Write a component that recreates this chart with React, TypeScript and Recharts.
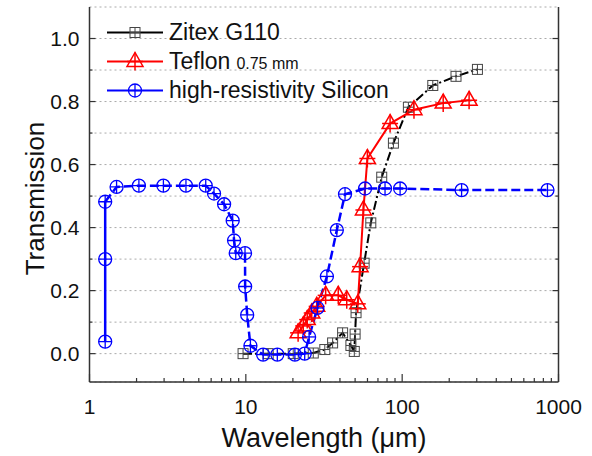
import React from 'react';
import { LineChart, Line, XAxis, YAxis, CartesianGrid, Legend } from 'recharts';

// values: wavelength (µm) and transmission
const zitexWl = [9.6, 13.9, 20.1, 27.0, 32.0, 35.9, 41.6, 47.0, 49.4, 50.0, 50.7, 57.1, 63.0, 74.0, 87.9, 109.6, 157, 221, 303];
const zitexT = [0.0, 0.0, 0.0, 0.002, 0.013, 0.034, 0.066, 0.026, 0.007, 0.062, 0.13, 0.287, 0.415, 0.56, 0.668, 0.782, 0.851, 0.88, 0.902];

const teflonWl = [21.6, 23.3, 24.7, 26.4, 28.4, 32.4, 39.0, 44.2, 52.0, 53.8, 56.5, 59.9, 83.7, 119, 183, 268];
const teflonT = [0.066, 0.088, 0.108, 0.129, 0.15, 0.185, 0.185, 0.171, 0.158, 0.276, 0.456, 0.619, 0.73, 0.774, 0.795, 0.804];

const siliconWl = [1.26, 1.26, 1.26, 1.49, 2.07, 2.97, 4.14, 5.54, 6.26, 7.26, 8.24, 8.41, 8.62, 9.88, 9.9, 10.2, 10.7, 12.9, 15.9, 20.6, 23.8, 25.4, 28.7, 33.0, 38.2, 43.1, 57.9, 77.7, 97.0, 240, 850];
const siliconT = [0.038, 0.30, 0.482, 0.529, 0.533, 0.533, 0.533, 0.533, 0.508, 0.474, 0.422, 0.359, 0.319, 0.319, 0.213, 0.123, 0.025, -0.003, -0.003, -0.003, 0.0, 0.053, 0.145, 0.245, 0.392, 0.506, 0.524, 0.524, 0.524, 0.519, 0.519];

const xTicks = [1, 2, 3, 4, 5, 6, 7, 8, 9, 10, 20, 30, 40, 50, 60, 70, 80, 90, 100, 200, 300, 400, 500, 600, 700, 800, 900, 1000];
const xLabels = [1, 10, 100, 1000];
const yTicks = [0, 0.1, 0.2, 0.3, 0.4, 0.5, 0.6, 0.7, 0.8, 0.9, 1.0];
const yLabels = [0, 0.2, 0.4, 0.6, 0.8, 1.0];

const FONT = '"Liberation Sans", Arial, sans-serif';
const AXIS = '#333';

const toPoints = (wl: number[], t: number[]) => wl.map((w, i) => ({ wl: w, t: t[i] }));
const zitex = toPoints(zitexWl, zitexT);
const teflon = toPoints(teflonWl, teflonT);
const silicon = toPoints(siliconWl, siliconT);
// the first three silicon points (same wavelength) are joined by a solid line, the rest dashed
const siliconSolid = silicon.slice(0, 3);
const siliconDashed = silicon.slice(2);

const isMajorY = (v: number) => yLabels.some(l => Math.abs(l - v) < 1e-6);

const SquareMark = ({ cx, cy }: any) => (
  <g stroke="#444" strokeWidth={1} fill="none">
    <rect x={cx - 5} y={cy - 5} width={10} height={10} />
    <line x1={cx - 5} y1={cy} x2={cx + 5} y2={cy} />
    <line x1={cx} y1={cy - 5} x2={cx} y2={cy + 5} />
  </g>
);

const TriMark = ({ cx, cy }: any) => (
  <g stroke="#ff0000" strokeWidth={1.5} fill="none">
    <polygon points={`${cx},${cy - 9} ${cx - 8},${cy + 5} ${cx + 8},${cy + 5}`} />
    <line x1={cx} y1={cy - 9} x2={cx} y2={cy + 9} />
    <line x1={cx - 8} y1={cy} x2={cx + 8} y2={cy} />
  </g>
);

const CircleMark = ({ cx, cy }: any) => (
  <g stroke="#0000ff" strokeWidth={1.3} fill="none">
    <circle cx={cx} cy={cy} r={6.5} />
    <line x1={cx - 6.5} y1={cy} x2={cx + 6.5} y2={cy} />
    <line x1={cx} y1={cy - 6.5} x2={cx} y2={cy + 6.5} />
  </g>
);

const BottomTick = ({ x, y, payload }: any) => {
  const major = xLabels.includes(payload.value);
  return (
    <g>
      <line x1={x} y1={y} x2={x} y2={y - (major ? 8 : 4)} stroke={AXIS} strokeWidth={1.2} />
      {major && (
        <text x={x} y={y + 24} textAnchor="middle" dominantBaseline="central" fontSize={21} fontFamily={FONT} fill="#111">
          {payload.value}
        </text>
      )}
    </g>
  );
};

const TopTick = ({ x, y, payload }: any) => {
  const major = xLabels.includes(payload.value);
  return <line x1={x} y1={y} x2={x} y2={y + (major ? 8 : 4)} stroke={AXIS} strokeWidth={1.2} />;
};

const LeftTick = ({ x, y, payload }: any) => {
  const major = isMajorY(payload.value);
  return (
    <g>
      <line x1={x} y1={y} x2={x + (major ? 6 : 3)} y2={y} stroke={AXIS} strokeWidth={1.2} />
      {major && (
        <text x={x - 10} y={y} textAnchor="end" dominantBaseline="central" fontSize={21} fontFamily={FONT} fill="#111">
          {payload.value.toFixed(1)}
        </text>
      )}
    </g>
  );
};

const RightTick = ({ x, y, payload }: any) => {
  const major = isMajorY(payload.value);
  return <line x1={x} y1={y} x2={x - (major ? 6 : 3)} y2={y} stroke={AXIS} strokeWidth={1.2} />;
};

const legendRows = [
  { name: 'Zitex G110', sub: '', color: '#000', Mark: SquareMark },
  { name: 'Teflon', sub: '0.75 mm', color: '#ff0000', Mark: TriMark },
  { name: 'high-resistivity Silicon', sub: '', color: '#0000ff', Mark: CircleMark },
];

const renderLegend = () => (
  <div style={{ fontFamily: FONT, color: '#111' }}>
    {legendRows.map(r => (
      <div key={r.name} style={{ display: 'flex', alignItems: 'center', height: 29 }}>
        <svg width={58} height={29}>
          <line x1={2} y1={14.5} x2={58} y2={14.5} stroke={r.color} strokeWidth={2} />
          <r.Mark cx={30} cy={14.5} />
        </svg>
        <span style={{ fontSize: 23, marginLeft: 6, whiteSpace: 'nowrap' }}>
          {r.name}
          {r.sub && <span style={{ fontSize: 16, marginLeft: 6 }}>{r.sub}</span>}
        </span>
      </div>
    ))}
  </div>
);

export default function App() {
  return (
    <div style={{ width: 592, height: 456, background: '#fff' }}>
      <style>{'body{margin:0}'}</style>
      <LineChart width={592} height={456} margin={{ top: 7, right: 0, bottom: 0, left: 0 }}>
        <CartesianGrid vertical={false} stroke="#aaa" strokeDasharray="2 3" />
        <XAxis
          dataKey="wl"
          type="number"
          scale="log"
          domain={[1, 1000]}
          allowDataOverflow
          ticks={xTicks}
          interval={0}
          height={74}
          tickSize={0}
          tickMargin={0}
          tick={<BottomTick />}
          stroke={AXIS}
          strokeWidth={1.5}
          label={{
            content: ({ viewBox }: any) => (
              <text x={viewBox.x + viewBox.width / 2} y={viewBox.y + 56} textAnchor="middle" dominantBaseline="central" fontSize={27} fontFamily={FONT} fill="#111">
                Wavelength (μm)
              </text>
            ),
          }}
        />
        <XAxis
          xAxisId="top"
          orientation="top"
          dataKey="wl"
          type="number"
          scale="log"
          domain={[1, 1000]}
          allowDataOverflow
          ticks={xTicks}
          interval={0}
          height={0}
          tickSize={0}
          tickMargin={0}
          tick={<TopTick />}
          stroke={AXIS}
          strokeWidth={1.5}
        />
        <YAxis
          type="number"
          domain={[-0.09, 1.1]}
          allowDataOverflow
          ticks={yTicks}
          interval={0}
          width={89.5}
          tickSize={0}
          tickMargin={0}
          tick={<LeftTick />}
          stroke={AXIS}
          strokeWidth={1.5}
          label={{
            content: ({ viewBox }: any) => {
              const cx = 35;
              const cy = viewBox.y + viewBox.height / 2 + 4;
              return (
                <text x={cx} y={cy} transform={`rotate(-90, ${cx}, ${cy})`} textAnchor="middle" dominantBaseline="central" fontSize={26} fontFamily={FONT} fill="#111">
                  Transmission
                </text>
              );
            },
          }}
        />
        <YAxis
          yAxisId="right"
          orientation="right"
          type="number"
          domain={[-0.09, 1.1]}
          allowDataOverflow
          ticks={yTicks}
          interval={0}
          width={33.5}
          tickSize={0}
          tickMargin={0}
          tick={<RightTick />}
          stroke={AXIS}
          strokeWidth={1.5}
        />
        <Legend
          layout="vertical"
          align="center"
          verticalAlign="middle"
          content={renderLegend}
          wrapperStyle={{ top: 18, left: 105, width: 'auto' }}
        />
        <Line
          data={zitex}
          dataKey="t"
          name="Zitex G110"
          stroke="#000"
          strokeWidth={2}
          strokeDasharray="9 3 2 3"
          isAnimationActive={false}
          dot={(p: any) => <SquareMark key={`z-${p.index}`} cx={p.cx} cy={p.cy} />}
        />
        <Line
          data={teflon}
          dataKey="t"
          name="Teflon 0.75 mm"
          stroke="#ff0000"
          strokeWidth={2}
          isAnimationActive={false}
          dot={(p: any) => <TriMark key={`t-${p.index}`} cx={p.cx} cy={p.cy} />}
        />
        <Line
          data={siliconSolid}
          dataKey="t"
          name="high-resistivity Silicon"
          stroke="#0000ff"
          strokeWidth={2.5}
          isAnimationActive={false}
          dot={(p: any) => <CircleMark key={`s1-${p.index}`} cx={p.cx} cy={p.cy} />}
        />
        <Line
          data={siliconDashed}
          dataKey="t"
          name="high-resistivity Silicon (dashed)"
          stroke="#0000ff"
          strokeWidth={2.5}
          strokeDasharray="9 4"
          isAnimationActive={false}
          dot={(p: any) => (p.index === 0 ? <g key="s2-0" /> : <CircleMark key={`s2-${p.index}`} cx={p.cx} cy={p.cy} />)}
        />
      </LineChart>
    </div>
  );
}
